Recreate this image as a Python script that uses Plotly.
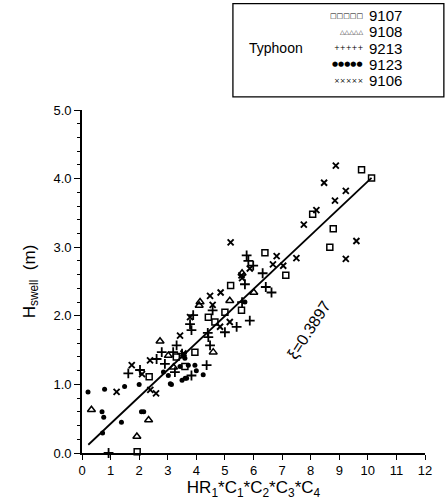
import plotly.graph_objects as go

# ---- data ----
x_9107 = [10.13, 9.78, 8.07, 8.79, 8.67, 6.40, 7.13, 5.20, 5.58, 4.42, 4.65, 3.95, 2.35, 3.60, 1.93, 3.30, 5.00]
y_9107 = [4.01, 4.13, 3.48, 3.27, 3.00, 2.92, 2.59, 2.44, 2.08, 1.98, 1.91, 1.47, 1.11, 1.26, 0.02, 1.40, 2.05]

x_9108 = [0.33, 2.33, 1.92, 2.73, 4.59, 4.13, 4.10, 5.17, 6.01, 3.02, 5.60, 3.20]
y_9108 = [0.63, 0.48, 0.24, 1.63, 1.47, 2.20, 2.15, 2.22, 2.34, 1.42, 2.62, 1.25]

x_9213 = [5.76, 5.82, 5.99, 5.70, 6.32, 6.43, 6.63, 4.57, 3.89, 3.78, 3.83, 5.00, 5.41, 5.87,
          3.31, 4.42, 4.48, 2.79, 3.19, 2.61, 1.62, 2.03, 3.25, 3.83, 4.36, 0.93, 5.60, 3.50, 2.90, 4.40]
y_9213 = [2.88, 2.80, 2.73, 2.46, 2.62, 2.42, 2.34, 2.08, 2.01, 1.88, 1.79, 1.76, 1.84, 1.93,
          1.57, 1.69, 1.57, 1.47, 1.47, 1.37, 1.16, 1.21, 1.18, 1.13, 1.28, 0.00, 2.20, 1.45, 1.30, 1.75]

x_9123 = [0.21, 0.79, 1.49, 0.70, 0.76, 1.38, 2.16, 2.08, 0.72, 2.00, 3.09, 3.50, 3.61, 2.85, 3.02,
          3.13, 4.00, 4.24, 3.95, 3.54, 3.60, 3.72, 3.43, 5.70, 3.66]
y_9123 = [0.89, 0.93, 0.97, 0.60, 0.52, 0.45, 0.60, 0.60, 0.29, 1.00, 1.01, 1.06, 1.09, 1.18, 1.13,
          1.00, 1.20, 1.14, 1.28, 1.42, 1.38, 1.28, 1.26, 2.20, 1.09]

x_9106 = [8.88, 8.47, 9.23, 8.85, 8.20, 7.76, 9.60, 9.23, 6.81, 7.50, 7.04, 6.68, 5.20, 5.87, 5.58,
          4.85, 4.48, 4.57, 4.83, 5.17, 3.78, 3.43, 2.38, 1.74, 1.21, 2.39, 2.59, 3.55, 5.60, 2.10]
y_9106 = [4.19, 3.94, 3.82, 3.68, 3.54, 3.33, 3.09, 2.83, 2.87, 2.84, 2.73, 2.75, 3.07, 2.69, 2.59,
          2.34, 2.29, 2.16, 1.84, 1.91, 1.98, 1.71, 1.35, 1.28, 0.89, 0.92, 0.87, 1.45, 2.55, 1.15]

fit_x = [0.22, 10.13]
fit_y = [0.12, 4.01]

xticks = list(range(0, 13))
yticks = [0.0, 1.0, 2.0, 3.0, 4.0, 5.0]
ytick_labels = ["0.0", "1.0", "2.0", "3.0", "4.0", "5.0"]

legend_names = ["9107", "9108", "9213", "9123", "9106"]
legend_glyphs = ["\u25a1\u25a1\u25a1\u25a1\u25a1", "\u25b3\u25b3\u25b3\u25b3\u25b3", "+++++",
                 "\u25cf\u25cf\u25cf\u25cf\u25cf", "\u00d7\u00d7\u00d7\u00d7\u00d7"]
legend_glyph_sizes = [7, 6, 7, 7, 7]

FONT = "Liberation Sans, Arial, sans-serif"
BLACK = "black"

fig = go.Figure()

def add_series(xs, ys, name, symbol, size, lw=1.2, color=BLACK):
    fig.add_trace(go.Scatter(
        x=xs, y=ys, mode="markers", name=name, showlegend=False,
        marker=dict(symbol=symbol, size=size, color=color,
                    line=dict(color=BLACK, width=lw)),
        cliponaxis=False))

add_series(x_9107, y_9107, "9107", "square-open", 6, 1.5)
add_series(x_9108, y_9108, "9108", "triangle-up-open", 7, 1.5)
add_series(x_9213, y_9213, "9213", "cross-thin-open", 7, 1.8)
add_series(x_9123, y_9123, "9123", "circle", 5, 0)
add_series(x_9106, y_9106, "9106", "x-thin-open", 6, 1.9)

fig.add_trace(go.Scatter(x=fit_x, y=fit_y, mode="lines", showlegend=False,
                         line=dict(color=BLACK, width=1.8)))

# rotated coefficient label
fig.add_annotation(x=7.95, y=1.80, xref="x", yref="y", text="\u03be=0.3897",
                   showarrow=False, textangle=-57,
                   font=dict(family=FONT, size=16, color=BLACK))

# legend box (drawn manually in paper coords)
fig.add_shape(type="rect", xref="paper", yref="paper", x0=0.44, x1=1.055, y0=1.038, y1=1.31,
              line=dict(color=BLACK, width=1.3), fillcolor="white")
fig.add_annotation(xref="paper", yref="paper", x=0.566, y=1.18, text="Typhoon", showarrow=False,
                   yanchor="middle", font=dict(family=FONT, size=14, color=BLACK))
leg_y = [1.275, 1.228, 1.18, 1.134, 1.086]
for g, gs, n, yy in zip(legend_glyphs, legend_glyph_sizes, legend_names, leg_y):
    fig.add_annotation(xref="paper", yref="paper", x=0.825, y=yy, text=g, showarrow=False,
                       xanchor="right", yanchor="middle",
                       font=dict(family="DejaVu Sans", size=gs, color=BLACK))
    fig.add_annotation(xref="paper", yref="paper", x=0.832, y=yy, text=n, showarrow=False,
                       xanchor="left", yanchor="middle",
                       font=dict(family=FONT, size=15, color=BLACK))

fig.update_xaxes(range=[0, 12], tickvals=xticks, ticktext=[str(t) for t in xticks],
                 showline=True, linecolor=BLACK, linewidth=1.6, ticks="outside", ticklen=5,
                 tickwidth=1.4, tickcolor=BLACK, showgrid=False, zeroline=False,
                 tickfont=dict(family=FONT, size=13, color=BLACK),
                 title=dict(text="HR<sub>1</sub>*C<sub>1</sub>*C<sub>2</sub>*C<sub>3</sub>*C<sub>4</sub>",
                            font=dict(family=FONT, size=17, color=BLACK), standoff=2))
fig.update_yaxes(range=[0, 5], tickvals=yticks, ticktext=ytick_labels,
                 showline=True, linecolor=BLACK, linewidth=1.6, ticks="outside", ticklen=6,
                 tickwidth=1.4, tickcolor=BLACK, showgrid=False, zeroline=False,
                 minor=dict(dtick=0.2, ticks="outside", ticklen=3, tickcolor=BLACK, tickwidth=1.1),
                 tickfont=dict(family=FONT, size=13, color=BLACK),
                 title=dict(text="H<sub>swell</sub>  (m)",
                            font=dict(family=FONT, size=17, color=BLACK), standoff=14))

fig.update_layout(width=446, height=504, margin=dict(l=82, r=21, t=110, b=49),
                  plot_bgcolor="white", paper_bgcolor="white", showlegend=False)

fig.write_html("out.html")
